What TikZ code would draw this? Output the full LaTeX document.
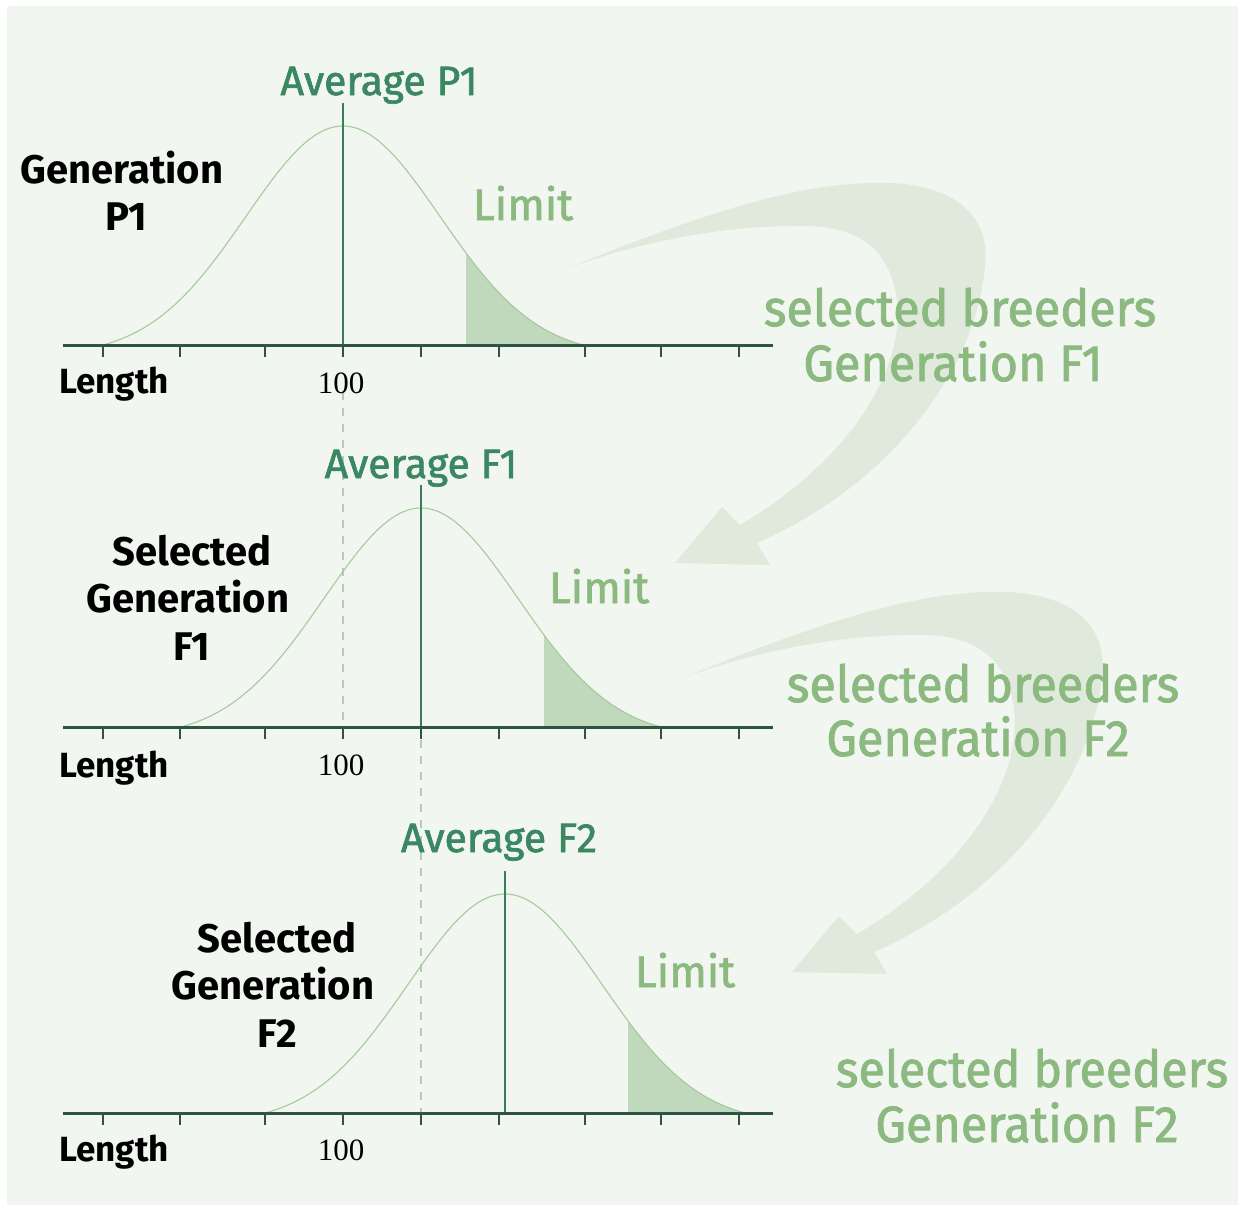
\documentclass[tikz,border=0pt]{standalone}
\usepackage{fontspec}
\setmainfont{Fira Sans}
\newfontfamily\numfont{Liberation Serif}
\newfontfamily\medfont[FakeBold=1.6]{Fira Sans}
\newfontfamily\selfont[FakeBold=1.6,FakeStretch=0.95]{Fira Sans}

\definecolor{panelbg}{RGB}{241,246,240}
\definecolor{avgc}{RGB}{58,135,98}
\definecolor{limc}{RGB}{139,185,128}
\definecolor{curvec}{RGB}{165,203,155}
\definecolor{shadec}{RGB}{192,217,188}
\definecolor{axisc}{RGB}{46,85,67}
\definecolor{meanc}{RGB}{62,122,92}
\definecolor{dashc}{RGB}{182,202,182}
\definecolor{arrowc}{RGB}{223,234,220}

% one distribution panel: #1 = mean x, #2 = axis y
\newcommand\distpanel[2]{%
  \fill[shadec] ({#1+123},#2) -- plot[domain=123:240,samples=40]
     ({#1+\x},{#2-219*(exp(-((\x/97)^2)/2)-0.0468)/0.9532}) -- cycle;
  \draw[curveline] plot[domain=-240:240,samples=160]
     ({#1+\x},{#2-219*(exp(-((\x/97)^2)/2)-0.0468)/0.9532});
  \draw[meanline] (#1,{#2-242}) -- (#1,#2);
  \foreach \t in {103,180,265,343,421,499,585,661,739}
    \draw[tickline] (\t,#2) -- (\t,{#2+12});
  \draw[axisline] (63,#2) -- (773,#2);
}

% broad curved arrow pointing down-left
\newcommand\bigarrow{%
  \fill[arrowc] (565,269) .. controls (700,215) and (800,180) .. (890,183)
    .. controls (960,186) and (990,220) .. (985,265)
    .. controls (978,360) and (900,480) .. (757,543)
    -- (770,565) -- (675,563) -- (722,507) -- (740,525)
    .. controls (850,460) and (905,370) .. (897,300)
    .. controls (890,250) and (860,228) .. (810,226)
    .. controls (720,224) and (630,245) .. (565,269) -- cycle;
}

\tikzset{
  curveline/.style={curvec, line width=1.1pt},
  meanline/.style={meanc, line width=1.5pt},
  tickline/.style={axisc, line width=1.6pt},
  axisline/.style={axisc, line width=3pt},
  dashline/.style={dashc, line width=1.4pt, dash pattern=on 8pt off 8pt},
  blk/.style={font=\fontsize{40}{47}\selectfont\bfseries, text=black, anchor=base, inner sep=0pt},
  avg/.style={font=\medfont\fontsize{41}{44}\selectfont, text=avgc, anchor=base, inner sep=0pt},
  lim/.style={font=\medfont\fontsize{44}{50}\selectfont, text=limc, anchor=base, inner sep=0pt},
  sel/.style={font=\selfont\fontsize{51}{55}\selectfont, text=limc, anchor=base, inner sep=0pt},
  len/.style={font=\fontsize{35}{38}\selectfont\bfseries, text=black, anchor=base, inner sep=0pt},
  num/.style={font=\numfont\fontsize{31}{34}\selectfont, text=black, anchor=base, inner sep=0pt},
}

\begin{document}
\begin{tikzpicture}[x=1pt,y=-1pt]
\useasboundingbox (0,0) rectangle (1238,1205);
\fill[white] (0,0) rectangle (1238,1205);
\fill[panelbg] (7,6) rectangle (1238,1205);

% selection arrows
\bigarrow
\begin{scope}[shift={(117,409)}]
  \bigarrow
\end{scope}

% guide lines from one generation's mean to the next
\draw[dashline] (343,392) -- (343,727);
\draw[dashline] (421,740) -- (421,1113);

% distributions
\distpanel{343}{345}
\distpanel{421}{727}
\distpanel{505}{1113}

% generation P1
\node[avg] (avgP1) at (379,95) {Average P1};
\node[blk] (genP1a) at (122,183) {Generation};
\node[blk] (genP1b) at (126,230) {P1};
\node[lim] (limP1) at (523,220) {Limit};
\node[len] (lenP1) at (114,393) {Length};
\node[num] (numP1) at (341,393) {100};
\node[sel] (selF1a) at (960,326) {selected breeders};
\node[sel] (selF1b) at (953,381) {Generation F1};

% generation F1
\node[avg] (avgF1) at (421,478) {Average F1};
\node[blk] (genF1a) at (192,565) {Selected};
\node[blk] (genF1b) at (188,612) {Generation};
\node[blk] (genF1c) at (192,660) {F1};
\node[lim] (limF1) at (599,603) {Limit};
\node[len] (lenF1) at (114,777) {Length};
\node[num] (numF1) at (341,775) {100};
\node[sel] (selF2a) at (983,702) {selected breeders};
\node[sel] (selF2b) at (978,756) {Generation F2};

% generation F2
\node[avg] (avgF2) at (499,852) {Average F2};
\node[blk] (genF2a) at (277,952) {Selected};
\node[blk] (genF2b) at (273,999) {Generation};
\node[blk] (genF2c) at (277,1047) {F2};
\node[lim] (limF2) at (685,987) {Limit};
\node[len] (lenF2) at (114,1161) {Length};
\node[num] (numF2) at (341,1160) {100};
\node[sel] (selF3a) at (1032,1087) {selected breeders};
\node[sel] (selF3b) at (1027,1142) {Generation F2};
\end{tikzpicture}
\end{document}
